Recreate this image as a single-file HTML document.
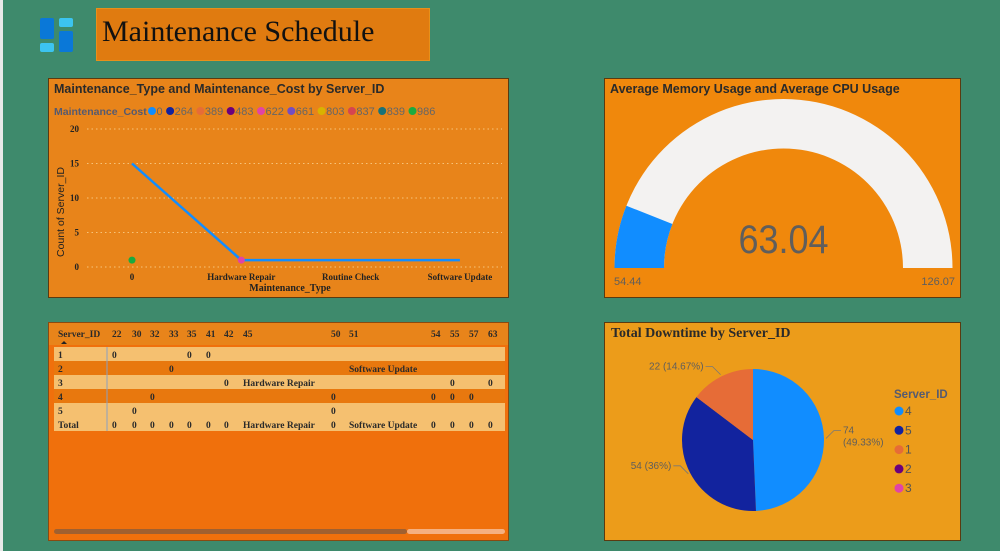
<!DOCTYPE html>
<html><head><meta charset="utf-8"><style>
body{margin:0;width:1000px;height:551px;background:#3e8a6c;position:relative;overflow:hidden;font-family:"Liberation Sans",sans-serif}
.panel{position:absolute;box-sizing:border-box;border:1px solid #5a3a10}
svg text{font-family:"Liberation Sans",sans-serif}
.serif{font-family:"Liberation Serif",serif!important}
</style></head><body>
<div style="position:absolute;left:0;top:0;width:3px;height:551px;background:#e8e8e8"></div>
<svg style="position:absolute;left:39px;top:17px" width="36" height="36">
<rect x="1" y="1" width="14" height="21" rx="2" fill="#0a78d8"/><rect x="20" y="1" width="14" height="9" rx="2" fill="#3cc4f0"/>
<rect x="20" y="14" width="14" height="21" rx="2" fill="#0a78d8"/><rect x="1" y="26" width="14" height="9" rx="2" fill="#3cc4f0"/></svg>
<div style="position:absolute;left:96px;top:8px;width:334px;height:53px;box-sizing:border-box;background:#e07b10;border:1px solid #e8901a;font-family:'Liberation Serif',serif;font-size:30px;line-height:46px;padding-left:5px;color:#111">Maintenance Schedule</div>

<div class="panel" style="left:48px;top:78px;width:461px;height:220px;background:#e8841a">
<svg id="lc" width="459" height="218" style="position:absolute;left:0;top:0"></svg></div>

<div class="panel" style="left:604px;top:78px;width:357px;height:220px;background:#f0880c">
<svg id="gc" width="355" height="218" style="position:absolute;left:0;top:0"></svg></div>

<div class="panel" style="left:48px;top:322px;width:461px;height:219px;background:#f0700c;border-color:#8a4a10">
<svg id="tb" width="459" height="217" style="position:absolute;left:0;top:0"></svg></div>

<div class="panel" style="left:604px;top:322px;width:357px;height:219px;background:#ec9c1a">
<svg id="pc" width="355" height="217" style="position:absolute;left:0;top:0"></svg></div>

<script>
const NS='http://www.w3.org/2000/svg';
function mk(p,t,a,txt){const e=document.createElementNS(NS,t);for(const k in a)e.setAttribute(k,a[k]);if(txt!==undefined)e.textContent=txt;p.appendChild(e);return e;}

const lcCategories=['0','Hardware Repair','Routine Check','Software Update'];
const lcLineValues=[15,1,null,1];
const lcYTicks=[0,5,10,15,20];
const lcLegendLabels=['0','264','389','483','622','661','803','837','839','986'];
const lcLegendColors=['#118dff','#12239e','#e66c37','#6b007b','#e044a7','#744ec2','#d9b300','#d64550','#197278','#1aab40'];
const lcDots=[{cat:0,val:1,color:'#1aab40'},{cat:1,val:1,color:'#e044a7'}];

const gaugeMin=54.44, gaugeMax=126.07, gaugeValue=63.04;

const tbColumns=['22','30','32','33','35','41','42','45','50','51','54','55','57','63'];
const tbRowLabels=['1','2','3','4','5','Total'];
const tbCells=[
['0','','','','0','0','','','','','','','',''],
['','','','0','','','','','','Software Update','','','',''],
['','','','','','','0','Hardware Repair','','','','0','','0'],
['','','0','','','','','','0','','0','0','0',''],
['','0','','','','','','','0','','','','',''],
['0','0','0','0','0','0','0','Hardware Repair','0','Software Update','0','0','0','0']];

const pieLabels=['4','5','1','2','3'];
const pieValues=[74,54,22,0,0];
const pieColors=['#118dff','#12239e','#e66c37','#6b007b','#e044a7'];

(function(){
const s=document.getElementById('lc');
mk(s,'text',{x:5,y:14,'font-size':12.5,fill:'#2a2a2a','font-weight':'bold',},'Maintenance_Type and Maintenance_Cost by Server_ID');
const lg=mk(s,'g',{});
mk(lg,'text',{x:5,y:36,'font-size':10.5,'font-weight':'bold',fill:'#555a70'},'Maintenance_Cost');
let lx=103;
lcLegendLabels.forEach((l,i)=>{
 const g=mk(lg,'g',{});
 mk(g,'circle',{cx:lx,cy:32,r:4,fill:lcLegendColors[i]});
 mk(g,'text',{x:lx+4.5,y:36,'font-size':11,fill:'#666'},l);
 lx+=8+l.length*6.1+4;
});
const y=v=>188-v*(138/20);
const x=i=>83+i*109.3;
lcYTicks.forEach(t=>{
 mk(s,'line',{x1:38,x2:453,y1:y(t),y2:y(t),stroke:'#f6c37a','stroke-dasharray':'1.5 3'});
 mk(s,'text',{x:30,y:y(t)+3,'font-size':9,'text-anchor':'end',fill:'#222','font-weight':'bold',class:'serif'},t);
});
mk(s,'text',{transform:'translate(15,133) rotate(-90)','font-size':10.5,'text-anchor':'middle',fill:'#222',},'Count of Server_ID');
lcCategories.forEach((c,i)=>mk(s,'text',{x:x(i),y:201,'font-size':9,'text-anchor':'middle','font-weight':'bold',fill:'#222',class:'serif'},c));
mk(s,'text',{x:241,y:212,'font-size':10,'text-anchor':'middle','font-weight':'bold',fill:'#222',class:'serif',},'Maintenance_Type');
let d='';lcLineValues.forEach((v,i)=>{if(v===null)return;d+=(d?'L':'M')+x(i)+','+y(v);});
const p=mk(s,'path',{d:d,fill:'none',stroke:'#118dff','stroke-width':2.5});

lcDots.forEach(o=>{const c=mk(s,'circle',{cx:x(o.cat),cy:y(o.val),r:3.5,fill:o.color});
 });
})();

(function(){
const s=document.getElementById('gc');
mk(s,'text',{x:5,y:14,'font-size':12.5,'font-weight':'bold',fill:'#2a2a2a',},'Average Memory Usage and Average CPU Usage');
const cx=178.5,cy=189,R=169,r=119.5;
function arc(a0,a1){const P=(rad,a)=>[cx-rad*Math.cos(a),cy-rad*Math.sin(a)];
 const [x1,y1]=P(R,a0),[x2,y2]=P(R,a1),[x3,y3]=P(r,a1),[x4,y4]=P(r,a0);
 return `M${x1},${y1}A${R},${R} 0 0 1 ${x2},${y2}L${x3},${y3}A${r},${r} 0 0 0 ${x4},${y4}Z`;}
const f=(gaugeValue-gaugeMin)/(gaugeMax-gaugeMin)*Math.PI;
const bg=mk(s,'path',{d:arc(0,Math.PI),fill:'#f3f2f1'});
const fg=mk(s,'path',{d:arc(0,f),fill:'#118dff'});
mk(s,'text',{x:cx,y:174,'font-size':40,'text-anchor':'middle',fill:'#605e5c',transform:`translate(${cx*0.1},0) scale(0.9,1)`,},gaugeValue.toFixed(2));
mk(s,'text',{x:9,y:206,'font-size':11,fill:'#605e5c',},gaugeMin.toFixed(2));
mk(s,'text',{x:350,y:206,'font-size':11,'text-anchor':'end',fill:'#605e5c',},gaugeMax.toFixed(2));
})();

(function(){
const s=document.getElementById('tb');
const colX=[63,83,101,120,138,157,175,194,282,300,382,401,420,439];
mk(s,'rect',{x:0,y:0,width:459,height:22,fill:'#e8841a'});
const fs={'font-size':9.5,'font-weight':'bold',fill:'#2a2a2a',class:'serif'};
mk(s,'text',Object.assign({x:9,y:14},fs),'Server_ID');
mk(s,'path',{d:'M12,21 L15,18 L18,21Z',fill:'#222'});
tbColumns.forEach((c,i)=>mk(s,'text',Object.assign({x:colX[i],y:14},fs),c));
const rowY=[24,38,52,66,80,94];
tbRowLabels.forEach((r,ri)=>{
 const g=mk(s,'g',{});
 const fill=ri===5?'#f5c070':(ri%2===0?'#f5c070':'#e8780e');
 mk(g,'rect',{x:5,y:rowY[ri],width:451,height:14,fill:fill});
 mk(g,'text',Object.assign({x:9,y:rowY[ri]+11},fs),r);
 tbCells[ri].forEach((v,ci)=>{if(v)mk(g,'text',Object.assign({x:colX[ci],y:rowY[ri]+11},fs),v);});
});
mk(s,'line',{x1:58,x2:58,y1:24,y2:108,stroke:'#8aa0c0','stroke-width':1});
const sb=mk(s,'rect',{x:5,y:206,width:353,height:5,rx:2.5,fill:'#a06030'});

mk(s,'rect',{x:358,y:206,width:98,height:5,rx:2.5,fill:'#f5b080'});
})();

(function(){
const s=document.getElementById('pc');
mk(s,'text',{x:6,y:14,'font-size':14,'font-weight':'bold',fill:'#2a2a2a',class:'serif',},'Total Downtime by Server_ID');
const cx=148,cy=117,R=71;
const tot=pieValues.reduce((a,b)=>a+b,0);
let a=-Math.PI/2;
pieValues.forEach((v,i)=>{if(!v)return;
 const a1=a+v/tot*2*Math.PI;
 const p=mk(s,'path',{d:`M${cx},${cy}L${cx+R*Math.cos(a)},${cy+R*Math.sin(a)}A${R},${R} 0 ${a1-a>Math.PI?1:0} 1 ${cx+R*Math.cos(a1)},${cy+R*Math.sin(a1)}Z`,fill:pieColors[i]});
 
 const m=(a+a1)/2,ex=cx+(R+2)*Math.cos(m),ey=cy+(R+2)*Math.sin(m);
 const right=Math.cos(m)>0,lx=ex+(right?8:-8),ly=ey-8;
 mk(s,'path',{d:`M${ex},${ey}L${lx},${ly}L${lx+(right?7:-7)},${ly}`,fill:'none',stroke:'#777','stroke-width':0.8});
 const pct=Math.round(v/tot*10000)/100;
 if(right){mk(s,'text',{x:lx+9,y:ly+3,'font-size':10,fill:'#605e5c'},v);mk(s,'text',{x:lx+9,y:ly+15,'font-size':10,fill:'#605e5c'},'('+pct+'%)');}
 else mk(s,'text',{x:lx-9,y:ly+3,'font-size':10,fill:'#605e5c','text-anchor':'end'},v+' ('+pct+'%)');
 a=a1;});
mk(s,'text',{x:289,y:75,'font-size':11.5,'font-weight':'bold',fill:'#555a70'},'Server_ID');
pieLabels.forEach((l,i)=>{const g=mk(s,'g',{});
 mk(g,'circle',{cx:294,cy:88+i*19.3,r:4.5,fill:pieColors[i]});
 mk(g,'text',{x:300,y:92+i*19.3,'font-size':12,fill:'#555'},l);});
})();
</script>
</body></html>
